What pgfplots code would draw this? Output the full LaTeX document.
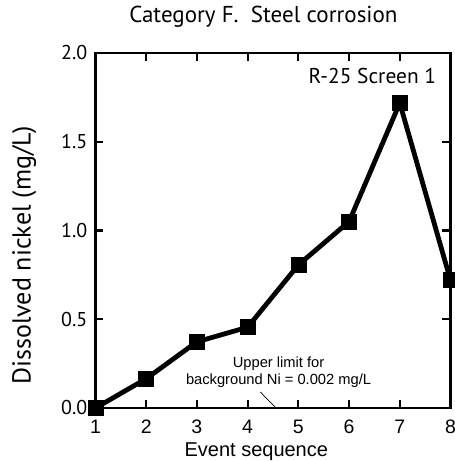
\documentclass[border=0pt]{standalone}
\usepackage{pgfplots}
\pgfplotsset{compat=1.18}
\usepackage{fontspec}
\setmainfont{PT Sans}
\newfontfamily\arial{Liberation Sans}

\begin{document}
\begin{tikzpicture}
  \begin{axis}[
      scale only axis,
      width=355pt, height=355pt,
      xmin=1, xmax=8,
      ymin=0, ymax=2,
      xtick={1,2,3,4,5,6,7,8},
      ytick={0,0.5,1,1.5,2},
      yticklabel style={/pgf/number format/fixed, /pgf/number format/fixed zerofill, /pgf/number format/precision=1},
      /pgf/number format/assume math mode=true,
      tick align=inside,
      major tick length=8pt,
      axis line style={line width=2.6pt},
      tick style={line width=2.2pt, black},
      x tick label style={font=\arial\fontsize{19.5}{19.5}\selectfont, anchor=base, yshift=-26pt},
      y tick label style={font=\fontsize{20}{20}\selectfont, anchor=east, inner sep=0pt, xshift=-8pt},
      xlabel={\arial Event sequence},
      xlabel style={font=\fontsize{20}{20}\selectfont, inner sep=0pt,
        at={(axis description cs:0.453,-0.138)}, anchor=base},
      ylabel={Dissolved nickel (mg/L)},
      ylabel style={font=\fontsize{26}{26}\selectfont, inner sep=0pt,
        at={(axis description cs:-0.201,0.43)}, anchor=center},
      title={Category F.\ \ Steel corrosion},
      title style={font=\fontsize{23}{23}\selectfont, inner sep=0pt,
        at={(axis description cs:0.473,1.070)}, anchor=base},
      clip=false,
    ]
    \addplot[black, line width=4.8pt, mark=square*, mark size=7.5pt,
      mark options={solid, line width=0.5pt}] coordinates {
      (1,0.00) (2,0.165) (3,0.373) (4,0.455) (5,0.806)
      (6,1.05) (7,1.718) (8,0.72)
    };
    \node[anchor=base east, inner sep=0pt, font=\fontsize{21.4}{21.4}\selectfont]
      at (axis cs:7.72,1.83) {R-25 Screen 1};
    \node[align=center, inner sep=0pt, font=\arial\fontsize{14.7}{17}\selectfont]
      at (axis cs:4.61,0.2) {Upper limit for\\background Ni = 0.002 mg/L};
    \draw[line width=0.7pt] (axis cs:4.25,0.09) -- (axis cs:4.56,0);
    \coordinate (bl) at (axis description cs:-0.2690,-0.1493);
    \coordinate (tr) at (axis description cs:1.0127,1.1493);
  \end{axis}
  \pgfresetboundingbox
  \path (bl) rectangle (tr);
\end{tikzpicture}
\end{document}
